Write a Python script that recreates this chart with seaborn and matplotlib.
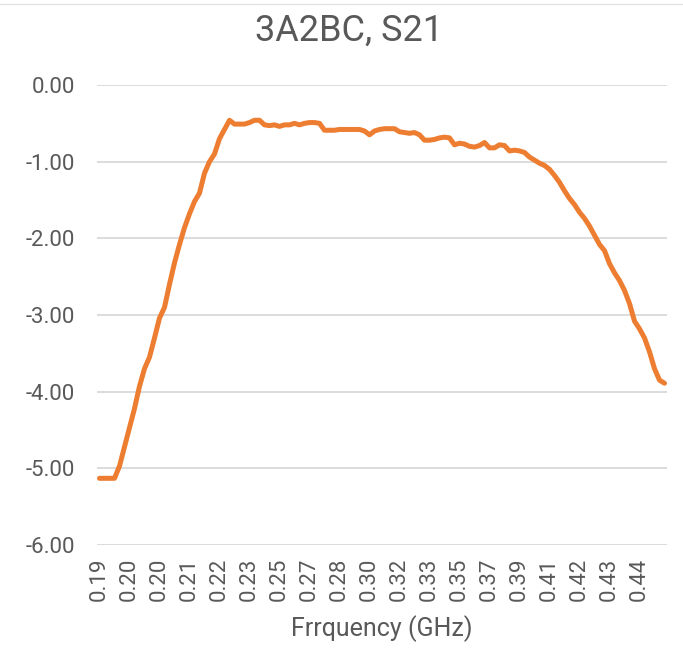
import numpy as np
import pandas as pd
import matplotlib
matplotlib.use("Agg")
import matplotlib.pyplot as plt
from matplotlib.lines import Line2D
import seaborn as sns

# S21 values (dB), one per sample
s21 = [
    -5.13, -5.13, -5.13, -5.13, -4.97, -4.72, -4.47, -4.22, -3.93, -3.70,
    -3.55, -3.30, -3.04, -2.90, -2.60, -2.32, -2.08, -1.86, -1.68, -1.52,
    -1.41, -1.15, -1.00, -0.90, -0.70, -0.58, -0.46, -0.51, -0.51, -0.51,
    -0.49, -0.46, -0.46, -0.52, -0.53, -0.52, -0.54, -0.52, -0.52, -0.50,
    -0.52, -0.50, -0.49, -0.49, -0.50, -0.59, -0.59, -0.59, -0.58, -0.58,
    -0.58, -0.58, -0.58, -0.60, -0.65, -0.60, -0.58, -0.57, -0.57, -0.57,
    -0.61, -0.62, -0.63, -0.62, -0.65, -0.72, -0.72, -0.71, -0.69, -0.68,
    -0.69, -0.78, -0.76, -0.77, -0.80, -0.81, -0.79, -0.75, -0.82, -0.82,
    -0.78, -0.79, -0.86, -0.85, -0.86, -0.88, -0.94, -0.98, -1.02, -1.05,
    -1.10, -1.18, -1.27, -1.38, -1.48, -1.56, -1.66, -1.74, -1.84, -1.96,
    -2.08, -2.16, -2.33, -2.45, -2.55, -2.68, -2.85, -3.08, -3.18, -3.30,
    -3.48, -3.70, -3.85, -3.89,
]

# Category tick labels (frequency, GHz), shown every 6th sample
freq_labels = ["0.19", "0.20", "0.20", "0.21", "0.22", "0.23", "0.25", "0.27",
               "0.28", "0.30", "0.32", "0.33", "0.35", "0.37", "0.39", "0.41",
               "0.42", "0.43", "0.44"]
label_every = 6

y_ticks = [0, -1, -2, -3, -4, -5, -6]

df = pd.DataFrame({"idx": np.arange(len(s21)), "s21": s21})

sns.set_theme(style="white")
plt.rcParams["font.family"] = ["Roboto", "DejaVu Sans"]

fig = plt.figure(figsize=(6.83, 6.62), dpi=100)
ax = fig.add_axes([97 / 683, 1 - 545 / 662, 570 / 683, 460 / 662])

sns.lineplot(data=df, x="idx", y="s21", ax=ax, color="#ED7D31",
             linewidth=3.6, solid_joinstyle="round", solid_capstyle="round")

ax.set_xlim(-0.5, len(s21) - 0.5)
ax.set_ylim(-6, 0)
ax.set_yticks(y_ticks)
ax.set_yticklabels([f"{v:.2f}" for v in y_ticks])
ax.set_xticks([i * label_every for i in range(len(freq_labels))])
ax.set_xticklabels(freq_labels, rotation=90)

ax.grid(axis="y", color="#D9D9D9", linewidth=1.3)
ax.set_axisbelow(True)
for s in ax.spines.values():
    s.set_visible(False)

ax.tick_params(axis="y", length=0, pad=16, labelsize=16, labelcolor="#595959")
ax.tick_params(axis="x", length=0, pad=9, labelsize=16, labelcolor="#595959")

ax.set_xlabel("Frrquency (GHz)", fontsize=18, color="#595959", labelpad=10)
ax.set_ylabel("")
fig.text(349 / 683, 1 - 31 / 662, "3A2BC, S21", fontsize=26, color="#595959",
         ha="center", va="center")

# thin chart-area border visible at the very top
fig.add_artist(Line2D([0, 1], [1 - 4 / 662, 1 - 4 / 662], transform=fig.transFigure,
                      color="#E3E3E3", linewidth=1.0))

fig.savefig("out.png", dpi=100)
